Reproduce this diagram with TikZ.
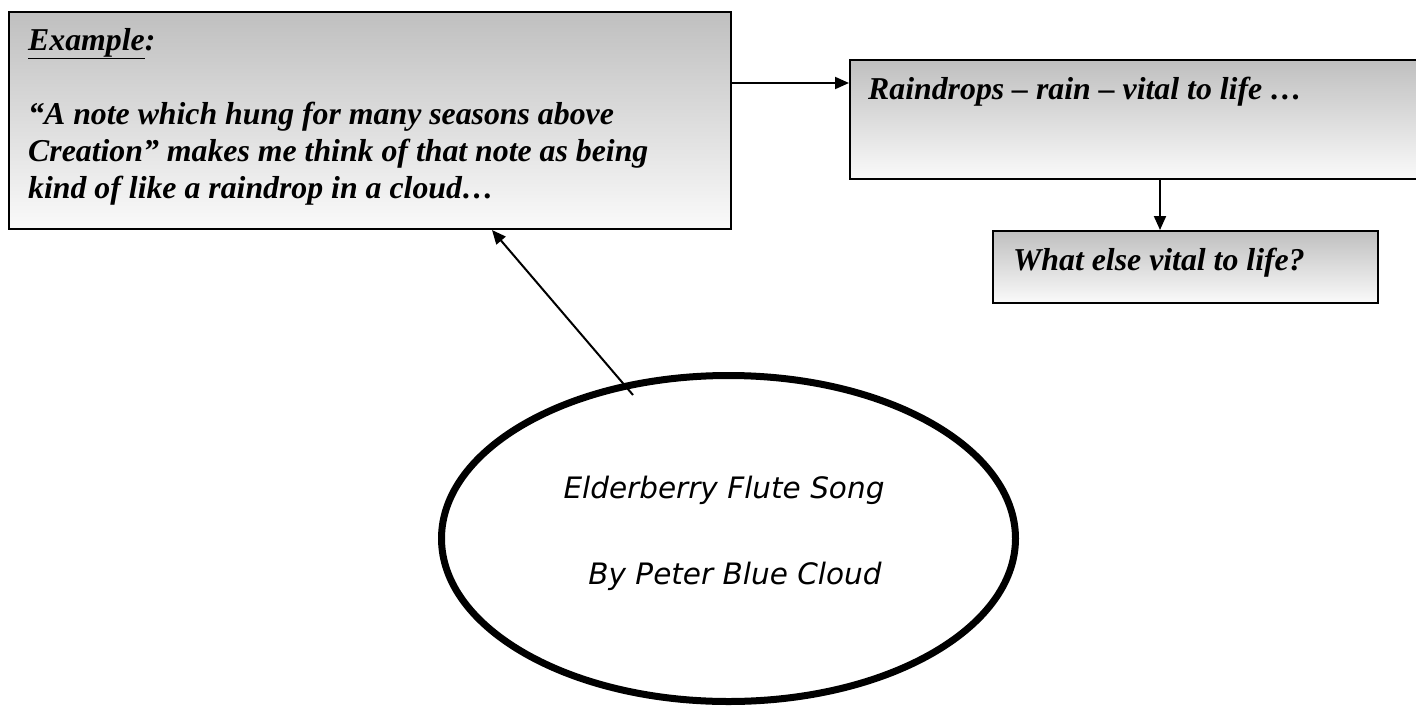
\documentclass[tikz,border=0pt]{standalone}
\usepackage{fontspec}
\setmainfont{Liberation Serif}
\newfontfamily\ellfont{DejaVu Sans}
\usetikzlibrary{arrows.meta,shapes.geometric}
\begin{document}
\begin{tikzpicture}[x=1pt,y=-1pt,
  gbox/.style={draw=black,line width=2pt,top color=black!25,bottom color=white!98!black,anchor=north west,inner sep=0pt},
  btxt/.style={font=\fontsize{31.8}{37}\selectfont\bfseries\itshape,anchor=base west,inner sep=0pt,align=left},
  etxt/.style={font=\fontsize{29.5}{34}\selectfont\ellfont\itshape,inner sep=0pt,anchor=base},
  conn/.style={line width=2pt,-{Triangle[length=14pt,width=12pt]}}]
\useasboundingbox (0,0) rectangle (1416,707);
\node[gbox,minimum width=722pt,minimum height=217pt] (b1) at (8,11) {};
\node[gbox,minimum width=580pt,minimum height=119pt] (b2) at (849,59) {};
\node[gbox,minimum width=385pt,minimum height=72pt] (b3) at (992,230) {};
\node[draw=black,line width=7pt,ellipse,minimum width=574pt,minimum height=326pt,inner sep=0pt] (el) at (728.5,538.5) {};
\node[btxt] (t0) at (28,50) {\underline{Example}:};
\node[btxt] (t1) at (28,198) {“A note which hung for many seasons above\\Creation” makes me think of that note as being\\kind of like a raindrop in a cloud…};
\node[btxt] (t2) at (868,99) {Raindrops – rain – vital to life …};
\node[btxt] (t3) at (1013,270) {What else vital to life?};
\node[etxt] (e1) at (724,498) {Elderberry Flute Song};
\node[etxt] (e2) at (735,584) {By Peter Blue Cloud};
\coordinate (s) at (633,395);
\draw[conn] (b1.east |- 0,83) -- (b2.west |- 0,83);
\draw[conn] (b2.south -| 1160,0) -- (b3.north -| 1160,0);
\draw[conn] (s) -- (b1.south -| 492,0);
\end{tikzpicture}
\end{document}
